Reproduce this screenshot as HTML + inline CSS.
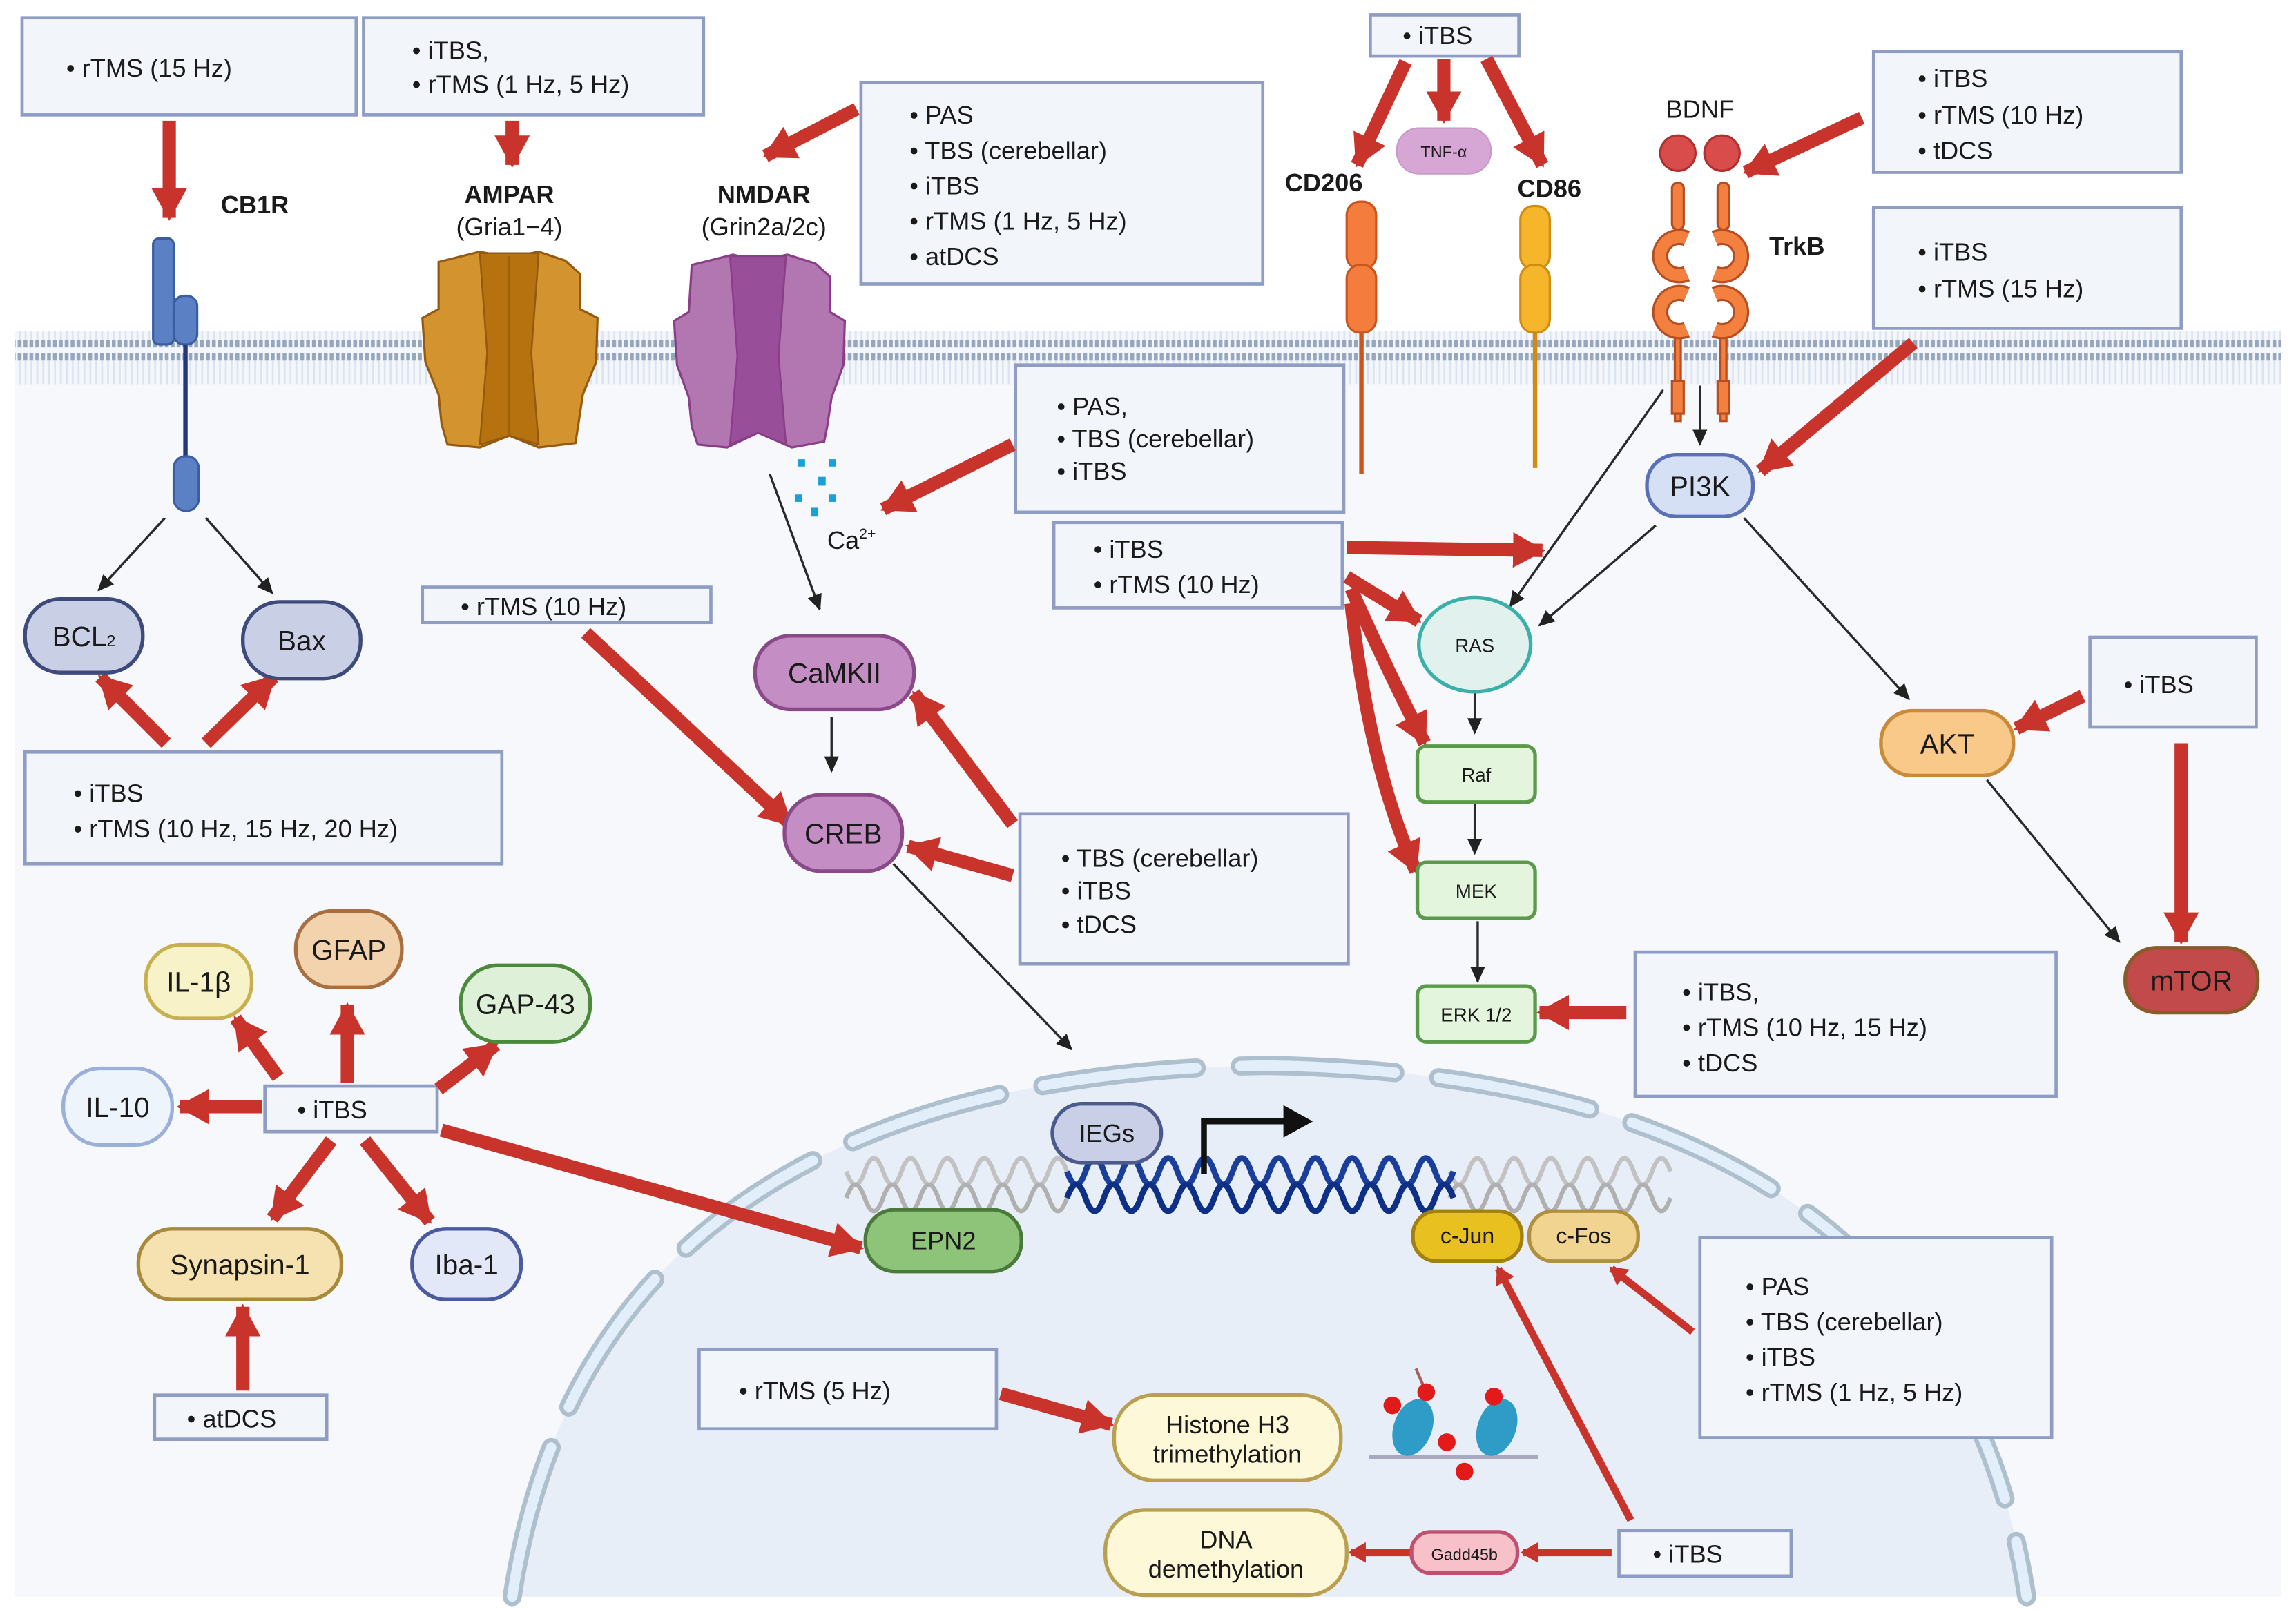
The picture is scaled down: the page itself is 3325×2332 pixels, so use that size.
<!DOCTYPE html>
<html><head><meta charset="utf-8"><style>
html,body{margin:0;padding:0;background:#fff}
svg{display:block}
text{font-family:"Liberation Sans",sans-serif;fill:#1a1a1a}
</style></head><body>
<svg width="3325" height="2332" viewBox="0 0 1560 1094" xmlns="http://www.w3.org/2000/svg">
<defs>
<marker id="rh" markerUnits="userSpaceOnUse" markerWidth="26" markerHeight="26" refX="20" refY="13" orient="auto"><path d="M0,1 L22,13 L0,25 Z" fill="#c8342c"/></marker>
<marker id="rs" markerUnits="userSpaceOnUse" markerWidth="14" markerHeight="14" refX="10" refY="7" orient="auto"><path d="M0,0 L12,7 L0,14 Z" fill="#c8342c"/></marker>
<marker id="bh" markerUnits="userSpaceOnUse" markerWidth="12" markerHeight="12" refX="10" refY="6" orient="auto"><path d="M0,1 L11,6 L0,11 Z" fill="#222"/></marker>
<pattern id="mem" width="4" height="40" patternUnits="userSpaceOnUse"><rect width="4" height="40" fill="#f3f6fb"/><rect x="0" y="0" width="2.6" height="5" fill="#95a6bd"/><rect x="0" y="31" width="2.6" height="5" fill="#95a6bd"/><rect x="0.8" y="5" width="1.2" height="26" fill="#dbe3ee"/></pattern>
</defs>
<rect x="0" y="0" width="1560" height="1094" fill="#fff"/>
<rect x="10" y="228" width="1540" height="857" fill="#f6f8fc"/>
<rect x="10" y="225" width="1540" height="36" fill="url(#mem)"/>
<!-- nucleus -->
<path d="M348,1085 C385,840 570,728 860,724 C1150,728 1340,840 1377,1085 Z" fill="#e8eef7"/>
<path d="M348,1085 C385,840 570,728 860,724 C1150,728 1340,840 1377,1085" fill="none" stroke="#aebfcd" stroke-width="13" stroke-dasharray="105 30" stroke-linecap="round"/>
<path d="M348,1085 C385,840 570,728 860,724 C1150,728 1340,840 1377,1085" fill="none" stroke="#e2effb" stroke-width="7" stroke-dasharray="105 30" stroke-linecap="round"/>
<!-- DNA -->
<g fill="none" stroke-width="3">
<path d="M575,796 q6.25,18 12.5,0 t12.5,0 t12.5,0 t12.5,0 t12.5,0 t12.5,0 t12.5,0 t12.5,0 t12.5,0 t12.5,0 t12.5,0 t12.5,0" stroke="#c2c2c2"/>
<path d="M575,814 q6.25,-18 12.5,0 t12.5,0 t12.5,0 t12.5,0 t12.5,0 t12.5,0 t12.5,0 t12.5,0 t12.5,0 t12.5,0 t12.5,0 t12.5,0" stroke="#b0b0b0"/>
<path d="M985,796 q6.25,18 12.5,0 t12.5,0 t12.5,0 t12.5,0 t12.5,0 t12.5,0 t12.5,0 t12.5,0 t12.5,0 t12.5,0 t12.5,0 t12.5,0" stroke="#c2c2c2"/>
<path d="M985,814 q6.25,-18 12.5,0 t12.5,0 t12.5,0 t12.5,0 t12.5,0 t12.5,0 t12.5,0 t12.5,0 t12.5,0 t12.5,0 t12.5,0 t12.5,0" stroke="#b0b0b0"/>
<path d="M725,796 q6.25,18 12.5,0 t12.5,0 t12.5,0 t12.5,0 t12.5,0 t12.5,0 t12.5,0 t12.5,0 t12.5,0 t12.5,0 t12.5,0 t12.5,0 t12.5,0 t12.5,0 t12.5,0 t12.5,0 t12.5,0 t12.5,0 t12.5,0 t12.5,0 t12.5,0" stroke="#1a3f9a" stroke-width="4"/>
<path d="M725,814 q6.25,-18 12.5,0 t12.5,0 t12.5,0 t12.5,0 t12.5,0 t12.5,0 t12.5,0 t12.5,0 t12.5,0 t12.5,0 t12.5,0 t12.5,0 t12.5,0 t12.5,0 t12.5,0 t12.5,0 t12.5,0 t12.5,0 t12.5,0 t12.5,0 t12.5,0" stroke="#0e2f86" stroke-width="4"/>
</g>
<path d="M818,798 L818,762 L875,762" fill="none" stroke="#111" stroke-width="4"/>
<path d="M872,751 L892,762 L872,773 Z" fill="#111"/>
<!-- nucleosomes -->
<g>
<line x1="930" y1="990" x2="1045" y2="990" stroke="#a8a8c0" stroke-width="3"/>
<line x1="969" y1="946" x2="962" y2="930" stroke="#a06060" stroke-width="2"/>
<ellipse cx="960" cy="970" rx="13" ry="20" transform="rotate(20 960 970)" fill="#2f9cc8"/>
<ellipse cx="1017" cy="970" rx="13" ry="20" transform="rotate(20 1017 970)" fill="#2f9cc8"/>
<circle cx="946" cy="955" r="6" fill="#e21a1a"/><circle cx="969" cy="946" r="6" fill="#e21a1a"/>
<circle cx="983" cy="980" r="6" fill="#e21a1a"/><circle cx="995" cy="1000" r="6" fill="#e21a1a"/>
<circle cx="1015" cy="949" r="6" fill="#e21a1a"/>
</g>
<!-- CB1R -->
<rect x="104" y="162" width="14" height="72" rx="4" fill="#5b80c4" stroke="#3a5ea0" stroke-width="1.5"/>
<rect x="118" y="201" width="16" height="33" rx="7" fill="#5b80c4" stroke="#3a5ea0" stroke-width="1.5"/>
<line x1="126" y1="234" x2="126" y2="312" stroke="#23387a" stroke-width="3"/>
<rect x="118" y="310" width="17" height="37" rx="8" fill="#5b80c4" stroke="#3a5ea0" stroke-width="1.5"/>
<!-- channels -->
<g transform="translate(286,168)">
<path d="M12,10 L40,3 L60,7 L80,3 L98,9 L108,18 L108,42 L120,48 L119,78 L110,100 L107,120 L105,133 L80,136 L60,128 L40,136 L18,134 L14,120 L12,100 L3,78 L1,48 L12,42 Z" fill="#d39430" stroke="#955a10" stroke-width="1.5"/>
<path d="M40,4 L80,4 L75,72 L80,134 L60,128 L40,134 L45,72 Z" fill="#b5720f" stroke="#955a10" stroke-width="1.2"/>
<line x1="60" y1="6" x2="60" y2="128" stroke="#9a5c10" stroke-width="1.2"/>
</g>
<g transform="translate(458,170)">
<path d="M12,10 L40,3 L57,7 L77,3 L96,9 L106,18 L106,42 L116,48 L115,78 L107,100 L104,120 L102,130 L80,134 L57,124 L36,134 L16,132 L12,120 L10,100 L2,78 L0,48 L10,42 Z" fill="#b276b0" stroke="#8a3e88" stroke-width="1.5"/>
<path d="M38,4 L76,4 L71,72 L76,132 L57,124 L38,132 L43,72 Z" fill="#984e98" stroke="#8a3e88" stroke-width="1.2"/>
</g>
<!-- Ca -->
<g fill="#1aa0d8"><rect x="542" y="312" width="5" height="5"/><rect x="563" y="312" width="5" height="5"/><rect x="556" y="324" width="5" height="6"/><rect x="540" y="336" width="5" height="5"/><rect x="563" y="336" width="5" height="5"/><rect x="551" y="345" width="5" height="6"/></g>
<text x="562" y="373" font-size="17">Ca<tspan font-size="10" dy="-7">2+</tspan></text>
<!-- CD206 / CD86 -->
<line x1="925" y1="215" x2="925" y2="322" stroke="#c9561e" stroke-width="3"/>
<rect x="915" y="137" width="20" height="46" rx="9" fill="#f47c3c" stroke="#c9561e" stroke-width="1.5"/>
<rect x="915" y="180" width="20" height="46" rx="9" fill="#f47c3c" stroke="#c9561e" stroke-width="1.5"/>
<line x1="1043" y1="215" x2="1043" y2="318" stroke="#d08c10" stroke-width="3"/>
<rect x="1033" y="140" width="20" height="43" rx="9" fill="#f6b62c" stroke="#d08c10" stroke-width="1.5"/>
<rect x="1033" y="180" width="20" height="46" rx="9" fill="#f6b62c" stroke="#d08c10" stroke-width="1.5"/>
<rect x="949" y="87" width="64" height="31" rx="15" fill="#d6a6d4" stroke="#c89ac8"/>
<text x="981" y="107" font-size="11" text-anchor="middle" fill="#444">TNF-α</text>
<!-- TrkB -->
<circle cx="1140" cy="104" r="12" fill="#d84c4c" stroke="#b03030" stroke-width="1.5"/>
<circle cx="1170" cy="104" r="12" fill="#d84c4c" stroke="#b03030" stroke-width="1.5"/>
<g fill="#f3803e" stroke="#b54e22" stroke-width="1.5">
<rect x="1136" y="124" width="8" height="32" rx="4"/><rect x="1167" y="124" width="8" height="32" rx="4"/>
<rect x="1138" y="226" width="4" height="60"/><rect x="1169" y="226" width="4" height="60"/>
<rect x="1136" y="259" width="8" height="22"/><rect x="1167" y="259" width="8" height="22"/>
</g>
<g fill="none" stroke-linecap="butt">
<g stroke="#b54e22" stroke-width="11">
<path d="M1146,162 A13,13 0 1 0 1146,186"/><path d="M1146,200 A13,13 0 1 0 1146,224"/>
<path d="M1165,162 A13,13 0 1 1 1165,186"/><path d="M1165,200 A13,13 0 1 1 1165,224"/>
</g>
<g stroke="#f3803e" stroke-width="8">
<path d="M1146,162 A13,13 0 1 0 1146,186"/><path d="M1146,200 A13,13 0 1 0 1146,224"/>
<path d="M1165,162 A13,13 0 1 1 1165,186"/><path d="M1165,200 A13,13 0 1 1 1165,224"/>
</g>
</g>
<!-- labels -->
<g font-weight="bold" font-size="17">
<text x="150" y="145">CB1R</text>
<text x="346" y="138" text-anchor="middle">AMPAR</text>
<text x="519" y="138" text-anchor="middle">NMDAR</text>
<text x="873" y="130">CD206</text>
<text x="1031" y="134">CD86</text>
<text x="1202" y="173">TrkB</text>
</g>
<g font-size="17">
<text x="346" y="160" text-anchor="middle">(Gria1−4)</text>
<text x="519" y="160" text-anchor="middle">(Grin2a/2c)</text>
<text x="1155" y="80" text-anchor="middle">BDNF</text>
</g>
<!-- boxes -->
<g fill="#f2f5fa" stroke="#8f9dc4" stroke-width="2.2">
<rect x="15" y="12" width="227" height="66"/>
<rect x="247" y="12" width="231" height="66"/>
<rect x="585" y="56" width="273" height="137"/>
<rect x="931" y="10" width="101" height="28"/>
<rect x="1273" y="35" width="209" height="82"/>
<rect x="1273" y="141" width="209" height="82"/>
<rect x="690" y="248" width="223" height="100"/>
<rect x="716" y="355" width="196" height="58"/>
<rect x="287" y="399" width="196" height="24"/>
<rect x="17" y="511" width="324" height="76"/>
<rect x="693" y="553" width="223" height="102"/>
<rect x="1420" y="433" width="113" height="61"/>
<rect x="1111" y="647" width="286" height="98"/>
<rect x="180" y="738" width="117" height="31"/>
<rect x="105" y="948" width="117" height="30"/>
<rect x="475" y="917" width="202" height="54"/>
<rect x="1155" y="841" width="239" height="136"/>
<rect x="1100" y="1040" width="117" height="31"/>
</g>
<g font-size="17">
<text x="45" y="52">•  rTMS (15 Hz)</text>
<text x="280" y="40">•  iTBS,</text><text x="280" y="63">•  rTMS (1 Hz, 5 Hz)</text>
<text x="618" y="84">•  PAS</text><text x="618" y="108">•  TBS (cerebellar)</text><text x="618" y="132">•  iTBS</text><text x="618" y="156">•   rTMS (1 Hz, 5 Hz)</text><text x="618" y="180">•  atDCS</text>
<text x="953" y="30">•  iTBS</text>
<text x="1303" y="59">•  iTBS</text><text x="1303" y="84">•  rTMS (10 Hz)</text><text x="1303" y="108">•  tDCS</text>
<text x="1303" y="177">•  iTBS</text><text x="1303" y="202">•  rTMS (15 Hz)</text>
<text x="718" y="282">•  PAS,</text><text x="718" y="304">•  TBS (cerebellar)</text><text x="718" y="326">•  iTBS</text>
<text x="743" y="379">•  iTBS</text><text x="743" y="403">•  rTMS (10 Hz)</text>
<text x="313" y="418">•  rTMS (10 Hz)</text>
<text x="50" y="545">•  iTBS</text><text x="50" y="569">•  rTMS (10 Hz, 15 Hz, 20 Hz)</text>
<text x="721" y="589">•  TBS (cerebellar)</text><text x="721" y="611">•  iTBS</text><text x="721" y="634">•   tDCS</text>
<text x="1443" y="471">•  iTBS</text>
<text x="1143" y="680">•  iTBS,</text><text x="1143" y="704">•   rTMS (10 Hz, 15 Hz)</text><text x="1143" y="728">•   tDCS</text>
<text x="202" y="760">•  iTBS</text>
<text x="127" y="970">•  atDCS</text>
<text x="502" y="951">•  rTMS (5 Hz)</text>
<text x="1186" y="880">•  PAS</text><text x="1186" y="904">•  TBS (cerebellar)</text><text x="1186" y="928">•  iTBS</text><text x="1186" y="952">•  rTMS (1 Hz, 5 Hz)</text>
<text x="1123" y="1062">•  iTBS</text>
</g>
<!-- black arrows -->
<g stroke="#2a2a2a" stroke-width="1.6" marker-end="url(#bh)">
<line x1="112" y1="352" x2="67" y2="401"/><line x1="140" y1="352" x2="185" y2="403"/>
<line x1="523" y1="322" x2="557" y2="414"/>
<line x1="565" y1="487" x2="565" y2="524"/>
<line x1="607" y1="587" x2="728" y2="713"/>
<line x1="1155" y1="262" x2="1155" y2="302"/>
<line x1="1130" y1="265" x2="1026" y2="412"/>
<line x1="1125" y1="357" x2="1046" y2="425"/>
<line x1="1185" y1="352" x2="1297" y2="475"/>
<line x1="1002" y1="470" x2="1002" y2="498"/>
<line x1="1002" y1="546" x2="1002" y2="580"/>
<line x1="1004" y1="626" x2="1004" y2="667"/>
<line x1="1350" y1="530" x2="1440" y2="640"/>
</g>
<!-- red arrows -->
<g stroke="#c8342c" stroke-width="9" fill="none" marker-end="url(#rh)">
<line x1="115" y1="82" x2="115" y2="148"/>
<line x1="348" y1="82" x2="348" y2="112"/>
<line x1="582" y1="74" x2="520" y2="106"/>
<line x1="955" y1="42" x2="922" y2="112"/>
<line x1="981" y1="40" x2="981" y2="82"/>
<line x1="1010" y1="40" x2="1048" y2="112"/>
<line x1="1265" y1="80" x2="1186" y2="117"/>
<line x1="1300" y1="233" x2="1196" y2="320"/>
<line x1="688" y1="302" x2="600" y2="346"/>
<line x1="915" y1="372" x2="1048" y2="374"/>
<line x1="915" y1="392" x2="964" y2="422"/>
<path d="M918,400 Q940,450 968,505"/>
<path d="M918,410 Q930,520 962,592"/>
<line x1="1105" y1="688" x2="1046" y2="688"/>
<line x1="1415" y1="473" x2="1370" y2="495"/>
<line x1="1482" y1="505" x2="1482" y2="640"/>
<line x1="113" y1="505" x2="68" y2="460"/>
<line x1="140" y1="505" x2="186" y2="460"/>
<line x1="398" y1="430" x2="537" y2="560"/>
<line x1="688" y1="560" x2="621" y2="471"/>
<line x1="688" y1="595" x2="617" y2="575"/>
<line x1="178" y1="752" x2="122" y2="752"/>
<line x1="189" y1="732" x2="160" y2="692"/>
<line x1="236" y1="736" x2="236" y2="683"/>
<line x1="298" y1="740" x2="337" y2="710"/>
<line x1="225" y1="775" x2="185" y2="828"/>
<line x1="248" y1="775" x2="292" y2="830"/>
<line x1="300" y1="768" x2="585" y2="848"/>
<line x1="165" y1="945" x2="165" y2="888"/>
<line x1="680" y1="947" x2="755" y2="968"/>
</g>
<g stroke="#c8342c" stroke-width="5" fill="none" marker-end="url(#rs)">
<line x1="1150" y1="905" x2="1095" y2="862"/>
<line x1="1108" y1="1033" x2="1018" y2="862"/>
<line x1="1095" y1="1055" x2="1035" y2="1055"/>
<line x1="958" y1="1055" x2="918" y2="1055"/>
</g>
<!-- nodes -->
<g stroke-width="2.5">
<rect x="17" y="407" width="80" height="50" rx="24" fill="#c9d0e6" stroke="#3d4a7a"/>
<rect x="165" y="409" width="80" height="52" rx="25" fill="#c9d0e6" stroke="#3d4a7a"/>
<rect x="513" y="432" width="108" height="50" rx="24" fill="#c48ec4" stroke="#8a4a8a"/>
<rect x="533" y="540" width="80" height="52" rx="25" fill="#c48ec4" stroke="#8a4a8a"/>
<rect x="1119" y="309" width="72" height="42" rx="20" fill="#d6e0f5" stroke="#5a72b5"/>
<ellipse cx="1002" cy="438" rx="38" ry="32" fill="#e1f2ee" stroke="#3ab0a8"/>
<rect x="963" y="507" width="80" height="38" rx="6" fill="#e3f5dc" stroke="#5a9a4a"/>
<rect x="963" y="586" width="80" height="38" rx="6" fill="#e3f5dc" stroke="#5a9a4a"/>
<rect x="963" y="670" width="80" height="38" rx="6" fill="#e3f5dc" stroke="#5a9a4a"/>
<rect x="1278" y="483" width="90" height="44" rx="21" fill="#f9c98a" stroke="#c98a3a"/>
<rect x="1444" y="644" width="90" height="44" rx="21" fill="#c34a4a" stroke="#8a5a2a"/>
<rect x="99" y="642" width="72" height="50" rx="24" fill="#f8f2c8" stroke="#c8b050"/>
<rect x="201" y="619" width="72" height="52" rx="25" fill="#f2d3ae" stroke="#a87040"/>
<rect x="313" y="656" width="88" height="52" rx="25" fill="#dff0d8" stroke="#4a8a3a"/>
<rect x="43" y="726" width="74" height="52" rx="25" fill="#eef4fc" stroke="#9ab0d8"/>
<rect x="94" y="835" width="138" height="48" rx="23" fill="#f5e2b0" stroke="#a88a3a"/>
<rect x="280" y="835" width="74" height="48" rx="23" fill="#e2e8f8" stroke="#4a5aa0"/>
<rect x="588" y="822" width="106" height="42" rx="20" fill="#8ec47a" stroke="#4a7a3a"/>
<rect x="715" y="750" width="74" height="40" rx="20" fill="#c9cfe6" stroke="#4a5a8a"/>
<rect x="960" y="823" width="74" height="34" rx="16" fill="#e8c020" stroke="#a08010"/>
<rect x="1039" y="823" width="74" height="34" rx="16" fill="#f0d490" stroke="#b09040"/>
<rect x="757" y="948" width="154" height="58" rx="27" fill="#fdf8d8" stroke="#b8a050"/>
<rect x="751" y="1026" width="164" height="58" rx="27" fill="#fdf8d8" stroke="#b8a050"/>
<rect x="959" y="1041" width="72" height="28" rx="13" fill="#f8c0c8" stroke="#c05070"/>
</g>
<g font-size="19" text-anchor="middle">
<text x="57" y="439">BCL<tspan font-size="11">2</tspan></text>
<text x="205" y="442">Bax</text>
<text x="567" y="464">CaMKII</text>
<text x="573" y="573">CREB</text>
<text x="1155" y="337">PI3K</text>
<text x="1002" y="443" font-size="13">RAS</text>
<text x="1003" y="531" font-size="13">Raf</text>
<text x="1003" y="610" font-size="13">MEK</text>
<text x="1003" y="694" font-size="13">ERK 1/2</text>
<text x="1323" y="512">AKT</text>
<text x="1489" y="673">mTOR</text>
<text x="135" y="674">IL-1β</text>
<text x="237" y="652">GFAP</text>
<text x="357" y="689">GAP-43</text>
<text x="80" y="759">IL-10</text>
<text x="163" y="866">Synapsin-1</text>
<text x="317" y="866">Iba-1</text>
<text x="641" y="849" font-size="17">EPN2</text>
<text x="752" y="776" font-size="17">IEGs</text>
<text x="997" y="845" font-size="15">c-Jun</text>
<text x="1076" y="845" font-size="15">c-Fos</text>
<text x="834" y="974" font-size="17">Histone H3</text>
<text x="834" y="994" font-size="17">trimethylation</text>
<text x="833" y="1052" font-size="17">DNA</text>
<text x="833" y="1072" font-size="17">demethylation</text>
<text x="995" y="1060" font-size="11">Gadd45b</text>
</g>
</svg>
</body></html>
